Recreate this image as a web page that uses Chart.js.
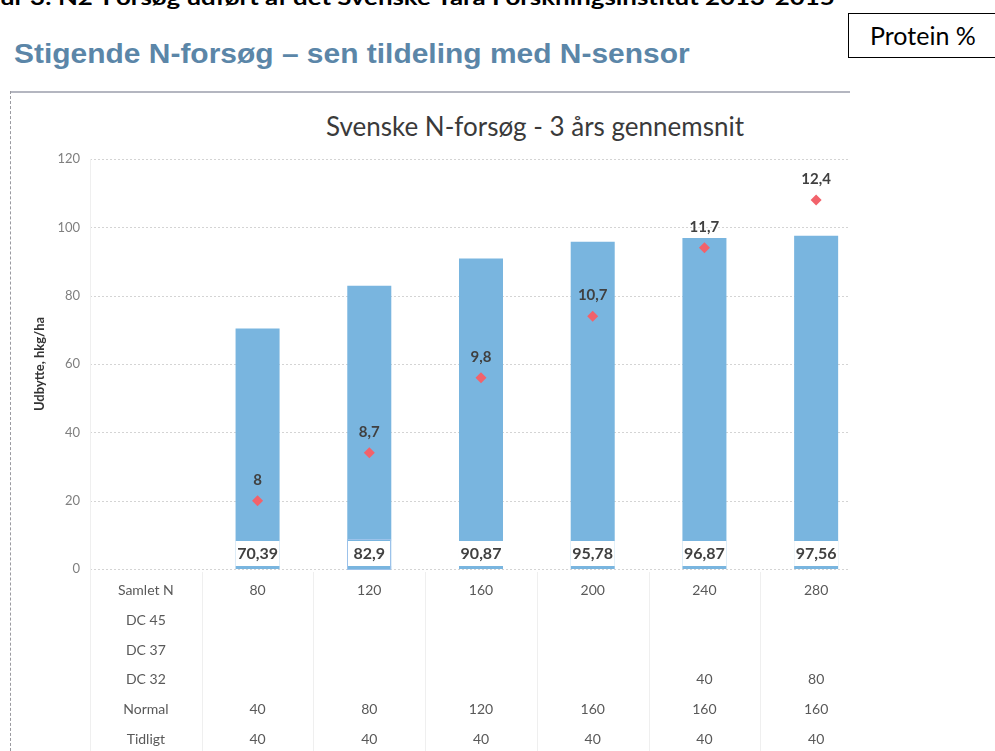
<!DOCTYPE html>
<html>
<head>
<meta charset="utf-8">
<script src="https://cdn.jsdelivr.net/npm/chart.js@4.4.1/dist/chart.umd.min.js"></script>
<style>
  html, body { margin:0; padding:0; background:#fff; width:995px; height:751px; overflow:hidden; position:relative; }
  #toptext { position:absolute; left:0; top:-14px; font: bold 21px Lato, sans-serif; line-height:21px; white-space:nowrap; color:#000; transform-origin:0 0; }
  #protbox { position:absolute; left:848px; top:13px; width:160px; height:45px; border:1px solid #000; box-sizing:border-box; }
  #protbox span { position:absolute; left:21px; top:6px; font: 25px Lato, sans-serif; line-height:30px; color:#000; white-space:nowrap; }
  #title { position:absolute; left:14px; top:40px; font: bold 28px "Liberation Sans", Arial, sans-serif; line-height:28px; color:#5b86a8; white-space:nowrap; transform-origin:0 0; }
  #frameTop { position:absolute; left:10px; top:91px; width:840px; border-top:2px solid #b4b6c0; }
  #frameLeft { position:absolute; left:10px; top:91px; height:660px; border-left:1px dashed #9a9aa0; }
  #subtitle { position:absolute; left:535px; top:111px; transform:translateX(-50%); font: 26px Lato, sans-serif; line-height:30px; color:#3a3a3a; white-space:nowrap; }
  #c { position:absolute; left:0; top:0; }
</style>
</head>
<body>
<div id="toptext">ur 3: N2-Forsøg udført af det Svenske Yara Forskningsinstitut 2013-2015</div>
<div id="protbox"><span>Protein %</span></div>
<div id="title">Stigende N-forsøg – sen tildeling med N-sensor</div>
<div id="frameTop"></div>
<div id="frameLeft"></div>
<div id="subtitle">Svenske N-forsøg - 3 års gennemsnit</div>
<canvas id="c" width="995" height="751"></canvas>
<script>
// ---- data ----
const rowLabels = ['Samlet N', 'DC 45', 'DC 37', 'DC 32', 'Normal', 'Tidligt'];
const samletN = [80, 120, 160, 200, 240, 280];
const dc45 = [null, null, null, null, null, null];
const dc37 = [null, null, null, null, null, null];
const dc32 = [null, null, null, null, 40, 80];
const normal = [40, 80, 120, 160, 160, 160];
const tidligt = [40, 40, 40, 40, 40, 40];
const yieldHkg = [70.39, 82.9, 90.87, 95.78, 96.87, 97.56];
const proteinPct = [8, 8.7, 9.8, 10.7, 11.7, 12.4];
const yTicks = [0, 20, 40, 60, 80, 100, 120];
const proteinAxisRange = [7, 13];

const fmt = v => (v === null || v === undefined) ? '' : String(v).replace('.', ',');
const labels = [rowLabels].concat(samletN.map((v, i) =>
  [fmt(v), fmt(dc45[i]), fmt(dc37[i]), fmt(dc32[i]), fmt(normal[i]), fmt(tidligt[i])]));
const barData = [null].concat(yieldHkg);
const protData = [null].concat(proteinPct);

// fit header texts
const tt = document.getElementById('toptext');
tt.style.transform = 'scaleX(' + (835 / tt.scrollWidth) + ')';
const ti = document.getElementById('title');
ti.style.transform = 'scaleX(' + (676 / ti.scrollWidth) + ')';

const gridRight = 850;

const tablePlugin = {
  id: 'tableLines',
  beforeDraw(chart) {
    const {ctx, chartArea, scales} = chart;
    const xs = scales.x, ys = scales.y;
    ctx.save();
    // horizontal dotted grid lines
    ctx.strokeStyle = '#d4d4d4';
    ctx.lineWidth = 1;
    ctx.setLineDash([2, 2]);
    yTicks.forEach(v => {
      const y = Math.round(ys.getPixelForValue(v)) + 0.5;
      ctx.beginPath();
      ctx.moveTo(chartArea.left, y);
      ctx.lineTo(gridRight, y);
      ctx.stroke();
    });
    ctx.setLineDash([]);
    ctx.strokeStyle = '#efefef';
    ctx.beginPath();
    ctx.moveTo(chartArea.left + 0.5, chartArea.top);
    ctx.lineTo(chartArea.left + 0.5, chart.height);
    ctx.stroke();
    for (let i = 1; i < labels.length; i++) {
      const x = Math.round((xs.getPixelForValue(i - 1) + xs.getPixelForValue(i)) / 2) + 0.5;
      ctx.beginPath();
      ctx.moveTo(x, chartArea.bottom + 3);
      ctx.lineTo(x, chart.height);
      ctx.stroke();
    }
    ctx.restore();
  }
};

const labelPlugin = {
  id: 'valueLabels',
  afterDatasetsDraw(chart) {
    const {ctx, scales} = chart;
    const y0 = scales.y.getPixelForValue(0);
    ctx.save();
    const barMeta = chart.getDatasetMeta(0);
    barMeta.data.forEach((bar, i) => {
      if (barData[i] === null) return;
      const w = bar.width;
      ctx.fillStyle = '#ffffff';
      ctx.fillRect(bar.x - w / 2, y0 - 28, w, 25);
      if (i === 2) {
        ctx.strokeStyle = '#9cc2ea';
        ctx.lineWidth = 1;
        ctx.strokeRect(Math.round(bar.x - w / 2) + 0.5, y0 - 29.5, Math.round(w) - 1, 30);
      }
      ctx.fillStyle = '#404040';
      ctx.font = 'bold 16px Lato, sans-serif';
      ctx.textAlign = 'center';
      ctx.textBaseline = 'middle';
      ctx.fillText(fmt(barData[i]), bar.x, y0 - 15);
    });
    const pMeta = chart.getDatasetMeta(1);
    pMeta.data.forEach((pt, i) => {
      if (protData[i] === null) return;
      ctx.fillStyle = '#404040';
      ctx.font = 'bold 15px Lato, sans-serif';
      ctx.textAlign = 'center';
      ctx.textBaseline = 'middle';
      ctx.fillText(fmt(protData[i]), pt.x, pt.y - 21);
    });
    ctx.restore();
  }
};

new Chart(document.getElementById('c'), {
  data: {
    labels: labels,
    datasets: [
      {
        type: 'bar',
        label: 'Udbytte',
        data: barData,
        backgroundColor: '#79b5df',
        borderWidth: 0,
        categoryPercentage: 1,
        barPercentage: 0.394,
        yAxisID: 'y',
        order: 2
      },
      {
        type: 'line',
        label: 'Protein %',
        data: protData,
        showLine: false,
        pointStyle: 'rectRot',
        pointRadius: 5.5,
        pointBackgroundColor: '#f2626b',
        pointBorderColor: '#f2626b',
        pointBorderWidth: 0,
        yAxisID: 'y2',
        order: 1
      }
    ]
  },
  options: {
    responsive: false,
    animation: false,
    devicePixelRatio: 1,
    layout: { padding: { left: 28, right: 123, top: 159, bottom: 0 } },
    plugins: { legend: { display: false }, tooltip: { enabled: false }, title: { display: false } },
    scales: {
      x: {
        grid: { display: false, drawTicks: false },
        border: { display: false },
        ticks: {
          autoSkip: false, maxRotation: 0, minRotation: 0,
          padding: 7,
          color: '#595959',
          font: { family: 'Lato, sans-serif', size: 14, lineHeight: '29.7px' }
        },
        afterFit(scale) { scale.height = 182; }
      },
      y: {
        min: yTicks[0], max: yTicks[yTicks.length - 1],
        afterBuildTicks(scale) { scale.ticks = yTicks.map(v => ({ value: v })); },
        grid: { display: false, drawTicks: false },
        border: { display: false },
        ticks: { padding: 10, color: '#7f7f7f', font: { family: 'Lato, sans-serif', size: 13 } },
        title: { display: true, text: 'Udbytte, hkg/ha', color: '#333333', font: { family: 'Lato, sans-serif', size: 13, weight: 'bold' } },
        afterFit(scale) { scale.width = 62; }
      },
      y2: {
        display: false,
        min: proteinAxisRange[0], max: proteinAxisRange[1]
      }
    }
  },
  plugins: [tablePlugin, labelPlugin]
});
</script>
</body>
</html>
